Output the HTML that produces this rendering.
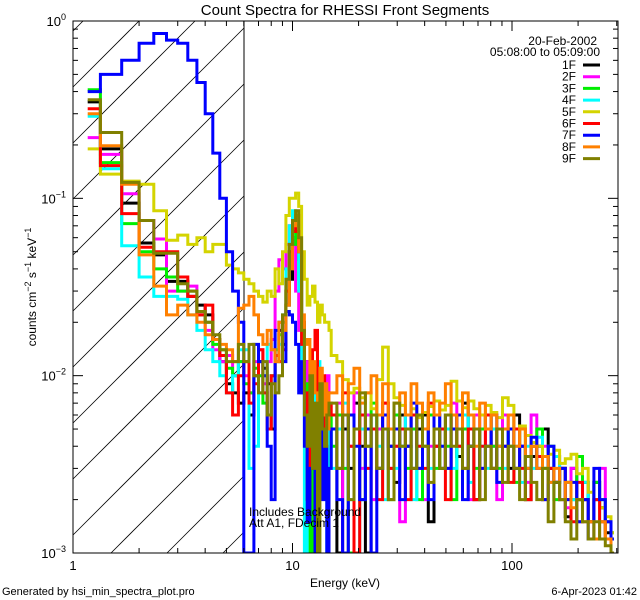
<!DOCTYPE html>
<html><head><meta charset="utf-8">
<style>
html,body{margin:0;padding:0;background:#fff;width:640px;height:600px;overflow:hidden;}
svg{display:block;font-family:"Liberation Sans","DejaVu Sans",sans-serif;overflow:hidden;}
</style></head>
<body>
<svg id="chart" width="640" height="600" viewBox="0 0 640 600">
<rect x="0" y="0" width="640" height="600" fill="#fff"/>
<text x="345" y="15" font-size="15" text-anchor="middle">Count Spectra for RHESSI Front Segments</text>
<defs><clipPath id="plotclip"><rect x="73" y="21" width="545" height="532"/></clipPath></defs>
<g id="hatch"></g>
<line x1="244" y1="21" x2="244" y2="553" stroke="#000" stroke-width="1"/>
<g id="series" clip-path="url(#plotclip)"></g>
<rect x="73" y="21" width="545" height="532" fill="none" stroke="#000" stroke-width="1"/>
<g id="axes"></g>
<text x="0" y="0" font-size="12" text-anchor="middle" transform="translate(36,287) rotate(-90)">counts cm<tspan dy="-5" font-size="9">−2</tspan><tspan dy="5"> s</tspan><tspan dy="-5" font-size="9">−1</tspan><tspan dy="5"> keV</tspan><tspan dy="-5" font-size="9">−1</tspan></text>
<text x="345" y="587" font-size="12" text-anchor="middle">Energy (keV)</text>
<text x="597" y="45" font-size="12" text-anchor="end">20-Feb-2002</text>
<text x="600" y="56" font-size="12" text-anchor="end">05:08:00 to 05:09:00</text>
<g id="legend"></g>
<text x="249" y="516" font-size="12">Includes Background</text>
<text x="249" y="527" font-size="12">Att A1, FDecim  1</text>
<text x="2" y="595" font-size="11">Generated by hsi_min_spectra_plot.pro</text>
<text x="637" y="595" font-size="11" text-anchor="end">6-Apr-2023 01:42</text>
</svg>
<script>
// values in units of 1e-3 counts cm^-2 s^-1 keV^-1
const seriesNames = ["1F","2F","3F","4F","5F","6F","7F","8F","9F"];
const seriesColors = ["#000000","#ff00ff","#00ee00","#00ffff","#d4d400","#ff0000","#0000ff","#ff8000","#808000"];
const low1F=[350,190,94,56,48,34,34,28,25,22,16,12,9,8,7];
const low2F=[220,177,106,75,59,30,30,32,22,18,14,12,13,10,12];
const low3F=[410,159,72,50,40,36,30,30,22,20,15,14,11,10,12];
const low4F=[290,147,54,36,28,28,27,22,18,14,12,10,8,10,14];
const low5F=[190,137,125,120,85,58,62,55,60,50,55,55,42,40,38];
const low6F=[320,153,82,53,50,50,36,28,22,25,16,13,8,6,10];
const low7F=[400,500,600,750,850,780,750,600,450,300,180,100,50,30,20];
const low8F=[300,198,120,48,32,22,25,22,20,17,16,15,14,12,24];
const low9F=[360,235,123,75,49,49,33,30,23,20,17,14,12,12,15];
const mid1F=[8,6,10,12,11,9,5,13,18,15,25,35,55,60,45,20,12,10,4,8,0.5,6,9,5,7,3,6];
const mid2F=[10,8,12,14,9,12,16,30,45,40,55,70,60,30,18,8,12,5,9,3,7,11,4,8,6,10,5];
const mid3F=[9,8,11,10,7,6,10,14,17,20,30,50,65,55,35,14,9,6,0.5,8,10,5,9,7,4,8,6];
const mid4F=[14,3,4,8,10,15,14,12,15,22,40,70,85,70,30,10,0.5,7,5,9,4,12,3,6,8,0.5,5];
const mid5F=[35,33,30,28,26,30,28,40,33,50,80,100,100,107,90,50,35,25,28,32,26,20,25,22,20,20,18];
const mid6F=[12,7,9,14,8,5,10,13,12,14,30,50,70,65,50,15,8,2,4,14,18,6,3,10,5,8,7];
const mid7F=[0.5,0.5,15,12,10,4,2,18,20,12,23,22,20,15,8,12,4,1.5,3,5,0.5,3,6,2,4,0.5,3];
const mid8F=[25,28,22,17,15,18,14,12,20,18,25,40,70,80,50,22,15,16,10,12,8,7,11,6,9,5,8];
const mid9F=[12,15,10,8,12,6,9,8,10,22,35,55,75,85,60,18,6,4,10,3,7,0.5,9,5,4,6,7];
const high1F=[6,0.5,5,3,7,4,0.5,6,3,5,4,2.5,6,4,3,5,6,1.5,4,3,6,5,3.5,7,4,2,5,6,3,4,5,3,6,4,2,3.5,4,5,3,2.5,3,1.6,3,2,2.5,1.5,2.5,1.8,1.3,1];
const high2F=[5,7,0.5,4,8,3,6,2,5,7,3,4,1.5,6,5,3,2,4,6,5,3,7,4,5,2,6,3,5,4,2,6,5,3,4,2.5,6,3.5,4,2.5,3.5,2,1.8,3,1.5,2,1.5,2,3,1.5,1.2];
const high3F=[4,6,3,0.5,5,2,4,7,3,5,2,6,4,3,5,2,4,6,3,5,4,2,6,5,4,3,5,6,4,3,5,4,2.5,5,3,4,5,3,4,2,3,2.5,2,3.5,2,1.5,2.5,2,1.5,1.3];
const high4F=[3,5,7,2,0.5,5,3,6,4,2,5,3,4,6,2,4,5,3,6,4,5,3,4,6,2.5,5,4,3,5,4,3,5,4,2.5,4,3,4.5,3,2.5,3.5,2,2.5,2,2,2.5,1.5,2,1.5,1.2,1.2];
const high5F=[13,12,9.5,8,8.5,7.5,8,6.5,9.5,14.5,9,7.5,6.8,6,6.5,5.8,6.2,6.7,7.2,6.4,6.8,9.3,7.2,6.6,7.2,6.5,6,6.8,6.2,5.8,7.5,6.8,5,5.2,4.6,4.2,4,3.5,3.6,3.8,3.2,3.4,3.6,2.8,3,2.2,2,1.8,1.6,1.3];
const high6F=[6,3,8,4,0.5,6,3,5,2,7,3,4,5,2,6,4,3,7,4,5,2,6,4,3,5,2,4,6,3,5,4,2.5,5,3,2,4,3.5,2,3,2.5,3,2,1.5,2.5,2,1.5,2,1.5,1.2,1];
const high7F=[5,2,0.5,6,4,2,5,0.5,3,6,4,5,2,4,7,3,5,2,6,4,3,5,6,2,4,5,3,4,6,2.5,4,5,3,4,3,4.5,3,2,4,2.5,3,2,2.5,1.5,2,1.2,3,2,1.5,1.2];
const high8F=[8,10,6,9,11,7,8,10,6,9,5,7,8,6,9,7,5,8,6,7,9,6,5,8,6,4,7,5,6,4,5,6,4,5,3,4,3,3.5,2.5,3,2,2.5,1.8,2,1.5,1.5,1.2,1.5,1.2,1];
const high9F=[7,3,6,2,5,8,4,6,3,5,2,7,4,5,3,6,4,2.5,5,3,6,4,5,3,4,5,2,4,3,5,2.5,4,3,2,3.5,2.5,2,3,1.5,2.5,2,1.5,1.2,2,1.5,1.2,1.5,1.2,1.1,1];
const xTickLabels=["1","10","100"];
const yTickExps=["0","−1","−2","−3"];

const lows=[low1F,low2F,low3F,low4F,low5F,low6F,low7F,low8F,low9F];
const mids=[mid1F,mid2F,mid3F,mid4F,mid5F,mid6F,mid7F,mid8F,mid9F];
const highs=[high1F,high2F,high3F,high4F,high5F,high6F,high7F,high8F,high9F];

const NS="http://www.w3.org/2000/svg";
const X0=73,X1=618,Y0=21,Y1=553;
const xMin=0, xMax=Math.log10(304);
const yMin=-3, yMax=0;
function xs(e){return X0+(Math.log10(e)-xMin)/(xMax-xMin)*(X1-X0);}
function ys(v){let l=Math.log10(Math.max(v,1e-3));return Math.min(Y1,Y1-(l-yMin)/(yMax-yMin)*(Y1-Y0));}
function mk(tag,attrs,parent){const el=document.createElementNS(NS,tag);for(const k in attrs)el.setAttribute(k,attrs[k]);parent.appendChild(el);return el;}

const edges=[];
for(let i=0;i<=42;i++)edges.push(1+i/3);
const hr=Math.pow(20,1/50);
for(let k=1;k<=50;k++)edges.push(15*Math.pow(hr,k));

// hatch: lines x+y=K clipped to [73,244]x[21,553]
const hatch=document.getElementById('hatch');
const HX1=244;
for(let K=X0+Y0+10;K<HX1+Y1;K+=56){
  let xa=Math.max(X0,K-Y1), xb=Math.min(HX1,K-Y0);
  if(xb<=xa)continue;
  const ln=mk('line',{x1:xa,y1:K-xa,x2:xb,y2:K-xb,stroke:'#000','stroke-width':0.8},hatch);
  
  
}

const sg=document.getElementById('series');
for(let s=0;s<9;s++){
  const vals=lows[s].concat(mids[s],highs[s]).map(v=>v*1e-3);
  const n=vals.length;
  const cxl=i=> i<42 ? (edges[i]+edges[i+1])/2 : Math.sqrt(edges[i]*edges[i+1]);
  let d='M'+xs(cxl(0)).toFixed(1)+','+ys(vals[0]).toFixed(1);
  for(let i=0;i<n;i++){
    const xe=i<n-1?xs(edges[i+1]):xs(cxl(i));
    d+='H'+xe.toFixed(1);
    if(i<n-1)d+='V'+ys(vals[i+1]).toFixed(1);
  }
  const p=mk('path',{d:d,fill:'none',stroke:seriesColors[s],'stroke-width':3,'stroke-linejoin':'miter'},sg);
  
  
}

const ax=document.getElementById('axes');
for(let dec=0;dec<=2;dec++){
  for(let m=1;m<=9;m++){
    const e=m*Math.pow(10,dec); if(e>304)break;
    const x=xs(e); const L=m===1?10:5;
    if(x<X0-0.5)continue;
    const t1=mk('line',{x1:x,y1:Y1,x2:x,y2:Y1-L,stroke:'#000','stroke-width':1},ax);
    
    
    const t2=mk('line',{x1:x,y1:Y0,x2:x,y2:Y0+L,stroke:'#000','stroke-width':1},ax);
    
    
  }
}
xTickLabels.forEach((lab,i)=>{
  const t=mk('text',{x:xs(Math.pow(10,i)),y:570,'font-size':13,'text-anchor':'middle'},ax);
  t.textContent=lab;
  
  
});
for(let dec=-3;dec<0;dec++){
  for(let m=1;m<=9;m++){
    const v=m*Math.pow(10,dec); const y=ys(v); const L=m===1?10:5;
    const a=mk('line',{x1:X0,y1:y,x2:X0+L,y2:y,stroke:'#000','stroke-width':1},ax);
    
    
    const b=mk('line',{x1:X1,y1:y,x2:X1-L,y2:y,stroke:'#000','stroke-width':1},ax);
    
    
  }
}
yTickExps.forEach((ex,i)=>{
  const y=ys(Math.pow(10,-i));
  const t=mk('text',{x:66,y:y+5,'font-size':13,'text-anchor':'end'},ax);
  t.innerHTML='10<tspan dy="-6" font-size="9">'+ex+'</tspan>';
  
  
});

const lg=document.getElementById('legend');
seriesNames.forEach((nm,i)=>{
  const y=65+i*11.7;
  const t=mk('text',{x:576,y:y+4,'font-size':12,'text-anchor':'end'},lg);
  t.textContent=nm;
  
  
  const l=mk('line',{x1:583,y1:y,x2:600,y2:y,stroke:seriesColors[i],'stroke-width':3},lg);
  
  
});
</script>
</body></html>
